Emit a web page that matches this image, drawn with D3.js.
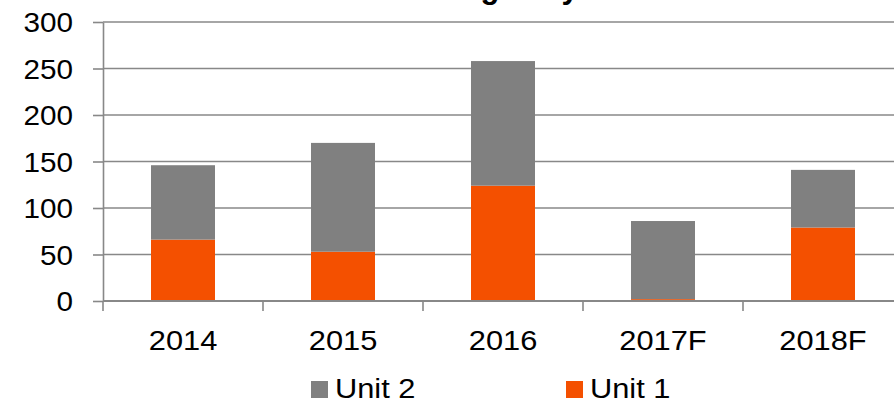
<!DOCTYPE html>
<html>
<head>
<meta charset="utf-8">
<script src="https://cdn.jsdelivr.net/npm/d3@7"></script>
<style>
  html, body { margin: 0; padding: 0; background: #fff; overflow: hidden; }
  svg { display: block; }
  text { font-family: "Liberation Sans", Arial, sans-serif; fill: #000; }
</style>
</head>
<body>
<svg id="chart" width="894" height="403"></svg>
<script>
const categories = ["2014", "2015", "2016", "2017F", "2018F"];
const unit1 = [66, 53, 124, 2, 79];
const unit2 = [80, 117, 134, 84, 62];
const yTicks = [0, 50, 100, 150, 200, 250, 300];
const seriesNames = ["Unit 2", "Unit 1"];
const seriesColors = { "Unit 1": "#F45000", "Unit 2": "#808080" };
const titleText = "Outage days";

const svg = d3.select("#chart");
const W = 894, H = 403;
const plotLeft = 103, plotRight = 903, plotTop = 22, plotBottom = 301;
const gridColor = "#888888";

const x = d3.scaleBand().domain(categories).range([plotLeft, plotRight]).paddingInner(0.6).paddingOuter(0.3);
const y = d3.scaleLinear().domain([0, 300]).range([plotBottom, plotTop]);

// title (mostly above the visible frame, as in the reference)
svg.append("text")
  .attr("x", 410).attr("y", -2)
  .attr("font-size", 31).attr("font-weight", "bold")
  .text(titleText);

// gridlines
svg.append("g").selectAll("line").data(yTicks.filter(d => d > 0)).join("line")
  .attr("x1", plotLeft).attr("x2", W)
  .attr("y1", d => y(d)).attr("y2", d => y(d))
  .attr("stroke", gridColor).attr("stroke-width", 1.6);

// stacked data
const rows = categories.map((c, i) => ({ cat: c, "Unit 1": unit1[i], "Unit 2": unit2[i] }));
const stack = d3.stack().keys(["Unit 1", "Unit 2"])(rows);

svg.append("g").selectAll("g").data(stack).join("g")
  .attr("fill", d => seriesColors[d.key])
  .selectAll("rect").data(d => d).join("rect")
  .attr("x", d => x(d.data.cat))
  .attr("width", x.bandwidth())
  .attr("y", d => y(d[1]))
  .attr("height", d => y(d[0]) - y(d[1]));

// y axis
const yAxis = svg.append("g").attr("transform", `translate(${plotLeft},0)`)
  .call(d3.axisLeft(y).tickValues(yTicks).tickSize(10).tickPadding(21).tickSizeOuter(0));
yAxis.select(".domain").attr("stroke", gridColor).attr("stroke-width", 1.6);
yAxis.selectAll(".tick line").attr("stroke", gridColor).attr("stroke-width", 1.6);
yAxis.selectAll(".tick text")
  .attr("font-size", 27).attr("font-family", "Liberation Sans, Arial, sans-serif")
  .attr("dy", "0.36em")
  .each(function () {
    const t = d3.select(this);
    const xx = +t.attr("x");
    t.attr("transform", `translate(${xx + 1},0) scale(1.1,1)`).attr("x", 0);
  });

// x axis: ticks at band boundaries
const boundaries = categories.map(c => x(c) - x.step() * x.paddingInner() / 2);
boundaries.push(plotRight);
const xAxisG = svg.append("g");
xAxisG.append("line")
  .attr("x1", plotLeft).attr("x2", W).attr("y1", plotBottom).attr("y2", plotBottom)
  .attr("stroke", gridColor).attr("stroke-width", 2);
xAxisG.selectAll("line.tk").data(boundaries).join("line").attr("class", "tk")
  .attr("x1", d => d).attr("x2", d => d)
  .attr("y1", plotBottom).attr("y2", plotBottom + 10)
  .attr("stroke", gridColor).attr("stroke-width", 1.6);
xAxisG.selectAll("text").data(categories).join("text")
  .attr("transform", d => `translate(${x(d) + x.bandwidth() / 2},${plotBottom + 49}) scale(1.1,1)`)
  .attr("text-anchor", "middle")
  .attr("font-size", 28)
  .text(d => d);

// legend
const legendX = [311, 566];
const lg = svg.append("g").selectAll("g").data(seriesNames).join("g")
  .attr("transform", (d, i) => `translate(${legendX[i]},381)`);
lg.append("rect").attr("width", 17).attr("height", 17).attr("fill", d => seriesColors[d]);
lg.append("text")
  .attr("transform", "translate(24,17) scale(1.1,1)")
  .attr("font-size", 28)
  .text(d => d);
</script>
</body>
</html>
